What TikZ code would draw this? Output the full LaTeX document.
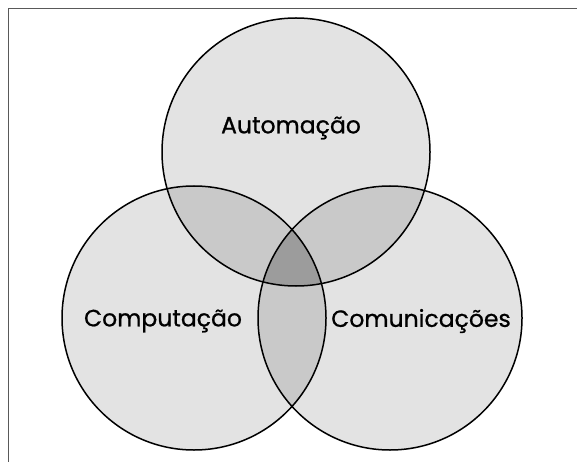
\documentclass[tikz,border=0pt]{standalone}
\usepackage{fontspec}
\setmainfont{Poppins}
\newfontfamily\setfont{Poppins}[FakeBold=0.8]
\begin{document}
\begin{tikzpicture}[x=1pt, y=-1pt,
  setline/.style={draw=black, line width=1.5pt},
  setname/.style={font=\setfont\fontsize{23.5}{28}\selectfont},
]
\useasboundingbox (0,0) rectangle (577,462);
\draw[black!65, line width=1.2pt] (8.5,8.5) rectangle (620,500);

% centres of the three sets
\coordinate (auto) at (296,152);
\coordinate (comp) at (194,318);
\coordinate (comm) at (390,318);

% single regions
\fill[black!11] (auto) circle[radius=134];
\fill[black!11] (comp) circle[radius=132];
\fill[black!11] (comm) circle[radius=132];

% pairwise overlaps
\begin{scope}
  \clip (auto) circle[radius=134];
  \fill[black!21] (comp) circle[radius=132];
  \fill[black!21] (comm) circle[radius=132];
\end{scope}
\begin{scope}
  \clip (comp) circle[radius=132];
  \fill[black!21] (comm) circle[radius=132];
\end{scope}

% all three
\begin{scope}
  \clip (auto) circle[radius=134];
  \clip (comp) circle[radius=132];
  \fill[black!39] (comm) circle[radius=132];
\end{scope}

\draw[setline] (auto) circle[radius=134];
\draw[setline] (comp) circle[radius=132];
\draw[setline] (comm) circle[radius=132];

\node[setname] (automacao) at (291,128) {Automação};
\node[setname] (computacao) at (163,321) {Computação};
\node[setname] (comunicacoes) at (421,321) {Comunicações};
\end{tikzpicture}
\end{document}
